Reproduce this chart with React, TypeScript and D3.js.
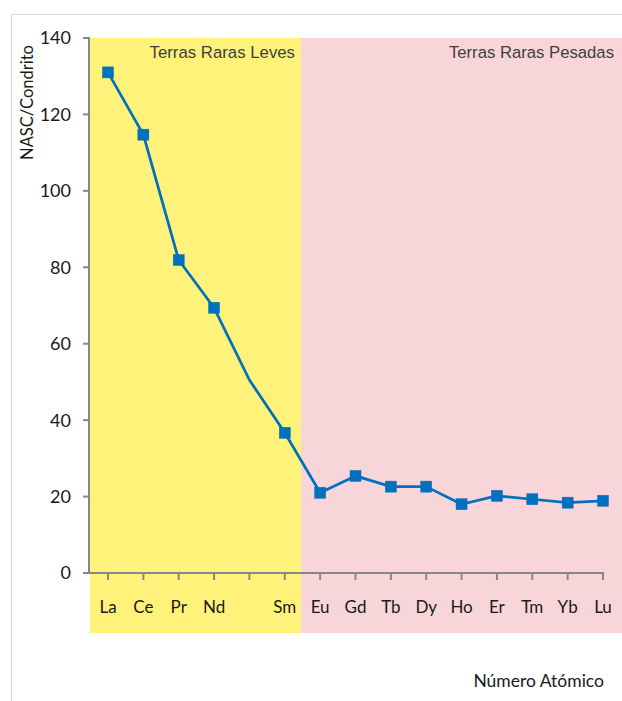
import React from "react";
import * as d3 from "d3";

const categories = ["La", "Ce", "Pr", "Nd", "", "Sm", "Eu", "Gd", "Tb", "Dy", "Ho", "Er", "Tm", "Yb", "Lu"];
const values = [131, 114.7, 81.9, 69.4, 50.5, 36.7, 21.0, 25.4, 22.6, 22.6, 18.0, 20.2, 19.3, 18.4, 18.9];
const hasMarker = [true, true, true, true, false, true, true, true, true, true, true, true, true, true, true];
const yTicks = [0, 20, 40, 60, 80, 100, 120, 140];
const regionLabels = ["Terras Raras Leves", "Terras Raras Pesadas"];
const yTitle = "NASC/Condrito";
const xTitle = "Número Atómico";

const W = 622;
const H = 701;
const axisX0 = 89;
const axisX1 = 604;
const plotTop = 38;
const plotBottom = 573;
const bgBottom = 633;
const splitX = 301;
const tickFont = "Lato, 'Open Sans', sans-serif";
const labelFont = "'Liberation Sans', Arial, sans-serif";
const axisColor = "#878787";

export default function App() {
  const x = d3.scaleLinear().domain([0, categories.length - 1]).range([108, 603]);
  const y = d3.scaleLinear().domain([0, 140]).range([plotBottom, plotTop]);
  const line = d3
    .line<number>()
    .x((_, i) => x(i))
    .y((d) => y(d));
  const ms = 11;

  return (
    <svg
      width={W}
      height={H}
      style={{ position: "absolute", left: 0, top: 0, background: "#fff" }}
    >
      {/* frame */}
      <line x1={11} y1={14.5} x2={W} y2={14.5} stroke="#d9d9d9" strokeWidth={1} />
      <line x1={11.5} y1={14} x2={11.5} y2={H} stroke="#d9d9d9" strokeWidth={1} />

      {/* background regions */}
      <rect x={90} y={plotTop} width={splitX - 90} height={bgBottom - plotTop} fill="#FEF27A" />
      <rect x={splitX} y={plotTop} width={W - splitX} height={bgBottom - plotTop} fill="#F8D5D9" />

      <text
        x={295}
        y={58}
        textAnchor="end"
        fontFamily={labelFont}
        fontSize={16.8}
        fill="#404040"
      >
        {regionLabels[0]}
      </text>
      <text
        x={614}
        y={58}
        textAnchor="end"
        fontFamily={labelFont}
        fontSize={16.7}
        fill="#404040"
      >
        {regionLabels[1]}
      </text>

      {/* y axis */}
      <line x1={axisX0} y1={plotTop - 1} x2={axisX0} y2={plotBottom + 1} stroke={axisColor} strokeWidth={2} />
      {yTicks.map((t) => (
        <g key={t}>
          <line x1={83} x2={axisX0} y1={y(t)} y2={y(t)} stroke={axisColor} strokeWidth={2} />
          <text
            x={71}
            y={y(t)}
            dy="0.36em"
            textAnchor="end"
            fontFamily={tickFont}
            fontSize={18}
            fill="#1a1a1a"
          >
            {t}
          </text>
        </g>
      ))}

      {/* x axis */}
      <line x1={axisX0} y1={plotBottom} x2={axisX1} y2={plotBottom} stroke={axisColor} strokeWidth={2} />
      {categories.map((c, i) => (
        <g key={i}>
          <line x1={x(i)} x2={x(i)} y1={plotBottom} y2={plotBottom + 7} stroke={axisColor} strokeWidth={2} />
          <text
            x={x(i)}
            y={613}
            textAnchor="middle"
            fontFamily={tickFont}
            fontSize={17}
            fill="#1a1a1a"
          >
            {c}
          </text>
        </g>
      ))}

      {/* series */}
      <path d={line(values) || ""} fill="none" stroke="#0070C0" strokeWidth={2.75} strokeLinejoin="round" />
      {values.map((v, i) =>
        hasMarker[i] ? (
          <rect
            key={i}
            x={x(i) - ms / 2}
            y={y(v) - ms / 2}
            width={ms}
            height={ms}
            fill="#0070C0"
            stroke="#0A6BB5"
            strokeWidth={0.5}
          />
        ) : null
      )}

      {/* titles */}
      <text
        transform={`translate(33, 102.5) rotate(-90)`}
        textAnchor="middle"
        fontFamily={tickFont}
        fontSize={16.5}
        fill="#1a1a1a"
      >
        {yTitle}
      </text>
      <text x={604} y={687} textAnchor="end" fontFamily={tickFont} fontSize={17.5} fill="#1a1a1a">
        {xTitle}
      </text>
    </svg>
  );
}
